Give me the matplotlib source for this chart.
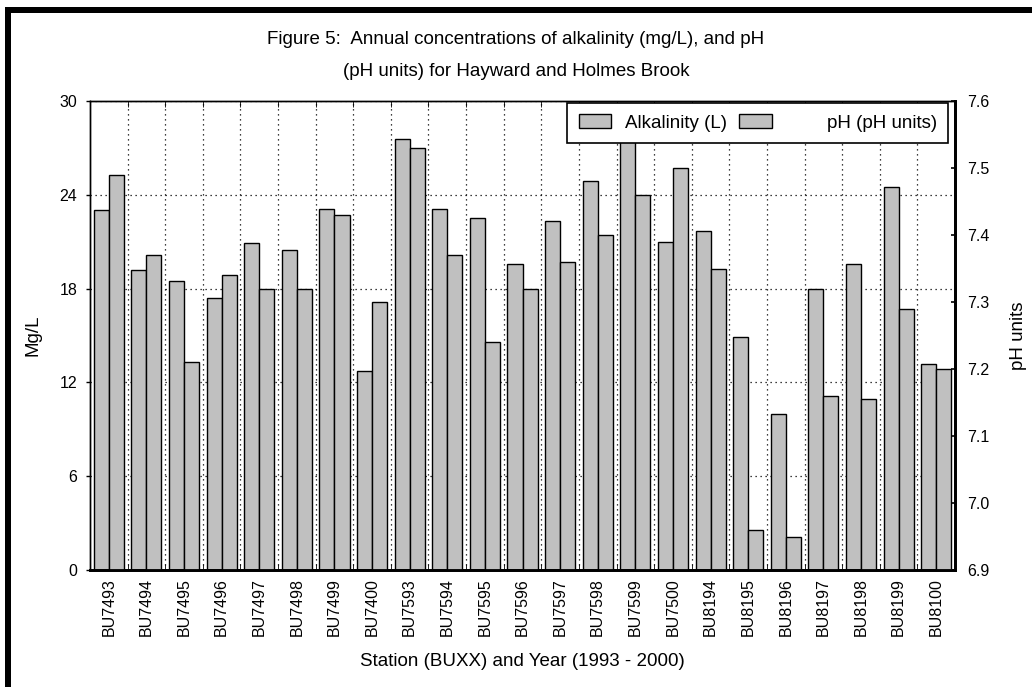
import matplotlib
matplotlib.use("Agg")
import matplotlib.pyplot as plt
import numpy as np
from matplotlib.patches import Rectangle

plt.rcParams['font.family'] = ['Liberation Sans', 'DejaVu Sans']

stations = ["BU7493", "BU7494", "BU7495", "BU7496", "BU7497", "BU7498", "BU7499", "BU7400",
            "BU7593", "BU7594", "BU7595", "BU7596", "BU7597", "BU7598", "BU7599", "BU7500",
            "BU8194", "BU8195", "BU8196", "BU8197", "BU8198", "BU8199", "BU8100"]
alkalinity = [23.0, 19.2, 18.5, 17.4, 20.9, 20.5, 23.1, 12.7,
              27.6, 23.1, 22.5, 19.6, 22.3, 24.9, 28.5, 21.0,
              21.7, 14.9, 10.0, 18.0, 19.6, 24.5, 13.2]
ph = [7.49, 7.37, 7.21, 7.34, 7.32, 7.32, 7.43, 7.30,
      7.53, 7.37, 7.24, 7.32, 7.36, 7.40, 7.46, 7.50,
      7.35, 6.96, 6.95, 7.16, 7.155, 7.29, 7.20]
left_ticks = [0, 6, 12, 18, 24, 30]
right_ticks = [6.9, 7.0, 7.1, 7.2, 7.3, 7.4, 7.5, 7.6]

W, H = 1032, 687
fig = plt.figure(figsize=(W / 100, H / 100), dpi=100)
L, R, T, B = 90, 955, 101, 570
ax = fig.add_axes([L / W, 1 - B / H, (R - L) / W, (B - T) / H])
ax2 = ax.twinx()

n = len(stations)
x = np.arange(n)
bw = 0.4
gray = '#c0c0c0'
ax.bar(x - bw / 2, alkalinity, width=bw, color=gray, edgecolor='black', linewidth=1.0,
       label='Alkalinity (L)', zorder=2)
ax2.bar(x + bw / 2, np.array(ph) - 6.9, bottom=6.9, width=bw, color=gray, edgecolor='black',
        linewidth=1.0, label='pH (pH units)', zorder=2)

ax.set_xlim(-0.5, n - 0.5)
ax.set_ylim(0, 30)
ax2.set_ylim(6.9, 7.6)
ax.set_yticks(left_ticks)
ax.set_yticklabels([str(v) for v in left_ticks], fontsize=11.5)
ax2.set_yticks(right_ticks)
ax2.set_yticklabels([f"{v:.1f}" for v in right_ticks], fontsize=11.5)

ax.set_xticks(x)
ax.set_xticklabels(stations, rotation=90, fontsize=11.5)
ax.set_xticks(np.arange(n - 1) + 0.5, minor=True)
ax.tick_params(axis='x', which='major', length=0, pad=6)
ax.tick_params(axis='x', which='minor', direction='in', length=4, top=True, bottom=True)
ax.tick_params(axis='y', which='major', direction='out', length=3, width=1.0, pad=6)
ax2.tick_params(axis='y', which='major', direction='in', length=3, width=1.2, pad=8.5)

ax.set_axisbelow(True)
ax.grid(True, axis='y', which='major', linestyle=(0, (1, 3)), color='black', linewidth=0.9)
ax.grid(True, axis='x', which='minor', linestyle=(0, (1, 3)), color='black', linewidth=0.9)
ax.grid(False, axis='x', which='major')

for a in (ax, ax2):
    a.spines['left'].set_linewidth(1.0)
    a.spines['top'].set_linewidth(1.0)
    a.spines['right'].set_linewidth(2.0)
    a.spines['bottom'].set_linewidth(2.0)

lab_fs = 13.5
ax.set_ylabel('Mg/L', fontsize=lab_fs, labelpad=13)
ax2.set_ylabel('pH units', fontsize=lab_fs, labelpad=15)
ax.set_xlabel('Station (BUXX) and Year (1993 - 2000)', fontsize=lab_fs, labelpad=12)

h1, l1 = ax.get_legend_handles_labels()
h2, l2 = ax2.get_legend_handles_labels()
leg = ax2.legend(h1 + h2, [l1[0], ' ' * 8 + l2[0]], loc='upper right',
                 bbox_to_anchor=(0.992, 0.996), ncol=2, fontsize=lab_fs, frameon=True,
                 fancybox=False, framealpha=1, edgecolor='black', handlelength=1.75,
                 handleheight=0.8, handletextpad=0.7, columnspacing=0.65,
                 borderpad=0.6, borderaxespad=0)
leg.get_frame().set_linewidth(1.2)
leg.set_zorder(10)

fig.text(516 / W, 1 - 43.5 / H, 'Figure 5:  Annual concentrations of alkalinity (mg/L), and pH',
         ha='center', va='baseline', fontsize=lab_fs)
fig.text(516 / W, 1 - 76 / H, '(pH units) for Hayward and Holmes Brook',
         ha='center', va='baseline', fontsize=lab_fs)

fig.patches.append(Rectangle((5 / W, 0), 6 / W, 1 - 7 / H, transform=fig.transFigure,
                             facecolor='black', edgecolor='none'))
fig.patches.append(Rectangle((5 / W, 1 - 13 / H), 1 - 5 / W, 6 / H, transform=fig.transFigure,
                             facecolor='black', edgecolor='none'))

fig.savefig('out.png', dpi=100)
